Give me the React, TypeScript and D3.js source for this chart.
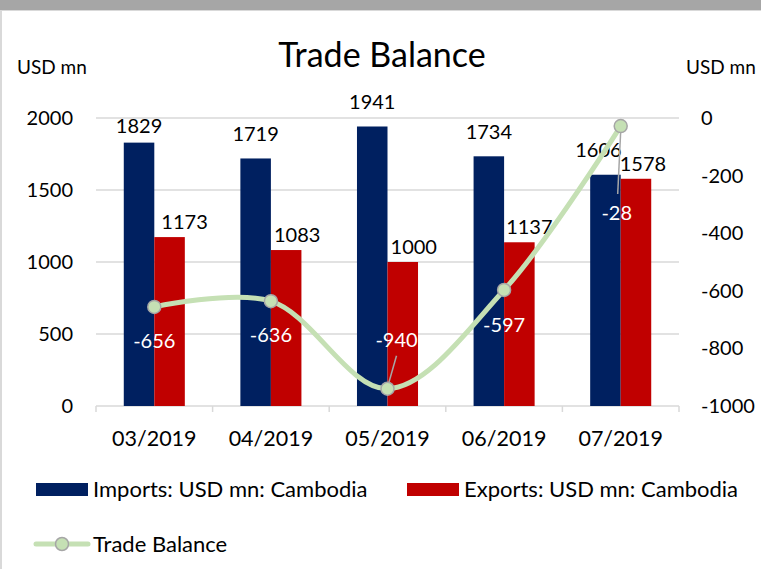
import React from "react";
import * as d3 from "d3";

const months = ["03/2019", "04/2019", "05/2019", "06/2019", "07/2019"];
const imports = [1829, 1719, 1941, 1734, 1606];
const exports = [1173, 1083, 1000, 1137, 1578];
const balance = [-656, -636, -940, -597, -28];
const leftTicks = [0, 500, 1000, 1500, 2000];
const rightTicks = [0, -200, -400, -600, -800, -1000];

const W = 761;
const H = 569;
const FONT = "Lato, 'Open Sans', sans-serif";
const NAVY = "#002060";
const RED = "#C00000";
const GREEN = "#C5E0B4";

export default function App() {
  const m = { left: 96, right: 679, top: 118, bottom: 406 };

  const x = d3.scaleBand<string>().domain(months).range([m.left, m.right]).padding(0);
  const x1 = d3
    .scaleBand<string>()
    .domain(["imp", "exp"])
    .range([0, x.bandwidth()])
    .paddingInner(0)
    .paddingOuter(0.91);
  const yL = d3.scaleLinear().domain([0, 2000]).range([m.bottom, m.top]);
  const yR = d3.scaleLinear().domain([-1000, 0]).range([m.bottom, m.top]);

  const cx = (i: number) => (x(months[i]) as number) + x.bandwidth() / 2;

  const line = d3
    .line<number>()
    .x((_, i) => cx(i))
    .y((d) => yR(d))
    .curve(d3.curveCatmullRom.alpha(0.5));

  // label nudges (dx, dy) relative to default spots, for the crowded ones
  const impNudge = [[0, 7], [0, 0], [0, 0], [0, 0], [-7, -1]];
  const expNudge = [[15, 0], [11, 0], [11, 0], [10, 0], [7, 0]];
  const balOff = [[0, 41], [0, 41], [9, -42], [0, 42], [-4, 94]];
  const leaders: (number[] | null)[] = [null, null, [1, -5, 9, -33], null, [0, 5, -3, 68]];

  const tickXs = months.map((mo) => x(mo) as number).concat([m.right]);

  return (
    <svg
      width={W}
      height={H}
      style={{ position: "absolute", left: 0, top: 0, background: "#fff" }}
      fontFamily={FONT}
    >
      {/* frame */}
      <rect x={0} y={0} width={W} height={10} fill="#A6A6A6" />
      <line x1={0} x2={W} y1={10.5} y2={10.5} stroke="#D9D9D9" />
      <line x1={1} x2={1} y1={10} y2={H} stroke="#D9D9D9" strokeWidth={2} />

      <text x={382} y={67} textAnchor="middle" fontSize={34} fill="#000">
        Trade Balance
      </text>
      <text x={17} y={74} fontSize={19} fill="#000">USD mn</text>
      <text x={686} y={74} fontSize={19} fill="#000">USD mn</text>

      {/* grid */}
      {leftTicks.map((t) => (
        <line key={t} x1={m.left} x2={m.right} y1={yL(t)} y2={yL(t)} stroke="#D9D9D9" strokeWidth={1.5} />
      ))}
      {tickXs.map((tx, i) => (
        <line key={i} x1={tx} x2={tx} y1={m.bottom} y2={m.bottom + 6} stroke="#D9D9D9" strokeWidth={1.5} />
      ))}

      {/* axes labels */}
      {leftTicks.map((t) => (
        <text key={t} x={73} y={yL(t) + 7} textAnchor="end" fontSize={20}>
          {t}
        </text>
      ))}
      {rightTicks.map((t) => (
        <text key={t} x={701} y={yR(t) + 7} fontSize={20}>
          {t}
        </text>
      ))}
      {months.map((mo, i) => (
        <text key={mo} x={cx(i)} y={446} textAnchor="middle" fontSize={21.5}>
          {mo}
        </text>
      ))}

      {/* bars */}
      {months.map((mo, i) => {
        const bx = x(mo) as number;
        return (
          <g key={mo}>
            <rect
              x={bx + (x1("imp") as number)}
              y={yL(imports[i])}
              width={x1.bandwidth()}
              height={m.bottom - yL(imports[i])}
              fill={NAVY}
            />
            <rect
              x={bx + (x1("exp") as number)}
              y={yL(exports[i])}
              width={x1.bandwidth()}
              height={m.bottom - yL(exports[i])}
              fill={RED}
            />
            <text
              x={bx + (x1("imp") as number) + x1.bandwidth() / 2 + impNudge[i][0]}
              y={yL(imports[i]) - 17 + impNudge[i][1]}
              textAnchor="middle"
              fontSize={20}
            >
              {imports[i]}
            </text>
            <text
              x={bx + (x1("exp") as number) + x1.bandwidth() / 2 + expNudge[i][0]}
              y={yL(exports[i]) - 8 + expNudge[i][1]}
              textAnchor="middle"
              fontSize={20}
            >
              {exports[i]}
            </text>
          </g>
        );
      })}

      {/* trade balance line */}
      <path d={line(balance) || ""} fill="none" stroke={GREEN} strokeWidth={5} strokeLinecap="round" />
      {balance.map((b, i) =>
        leaders[i] ? (
          <line
            key={"l" + i}
            x1={cx(i) + leaders[i]![0]}
            y1={yR(b) + leaders[i]![1]}
            x2={cx(i) + leaders[i]![2]}
            y2={yR(b) + leaders[i]![3]}
            stroke="#A6A6A6"
            strokeWidth={1.5}
          />
        ) : null
      )}
      {balance.map((b, i) => (
        <circle key={"c" + i} cx={cx(i)} cy={yR(b)} r={6.5} fill={GREEN} stroke="#A6A6A6" strokeWidth={1.5} />
      ))}
      {balance.map((b, i) => (
        <text
          key={"t" + i}
          x={cx(i) + balOff[i][0]}
          y={yR(b) + balOff[i][1]}
          textAnchor="middle"
          fontSize={20}
          fill="#fff"
        >
          {b}
        </text>
      ))}

      {/* legend */}
      <rect x={36} y={483} width={52} height={13} fill={NAVY} />
      <text x={93} y={497} fontSize={22}>Imports: USD mn: Cambodia</text>
      <rect x={407} y={483} width={52} height={13} fill={RED} />
      <text x={464} y={497} fontSize={22}>Exports: USD mn: Cambodia</text>
      <line x1={36} x2={88} y1={544} y2={544} stroke={GREEN} strokeWidth={5} strokeLinecap="round" />
      <circle cx={62} cy={544} r={6.5} fill={GREEN} stroke="#A6A6A6" strokeWidth={1.5} />
      <text x={93} y={552} fontSize={22}>Trade Balance</text>
    </svg>
  );
}
